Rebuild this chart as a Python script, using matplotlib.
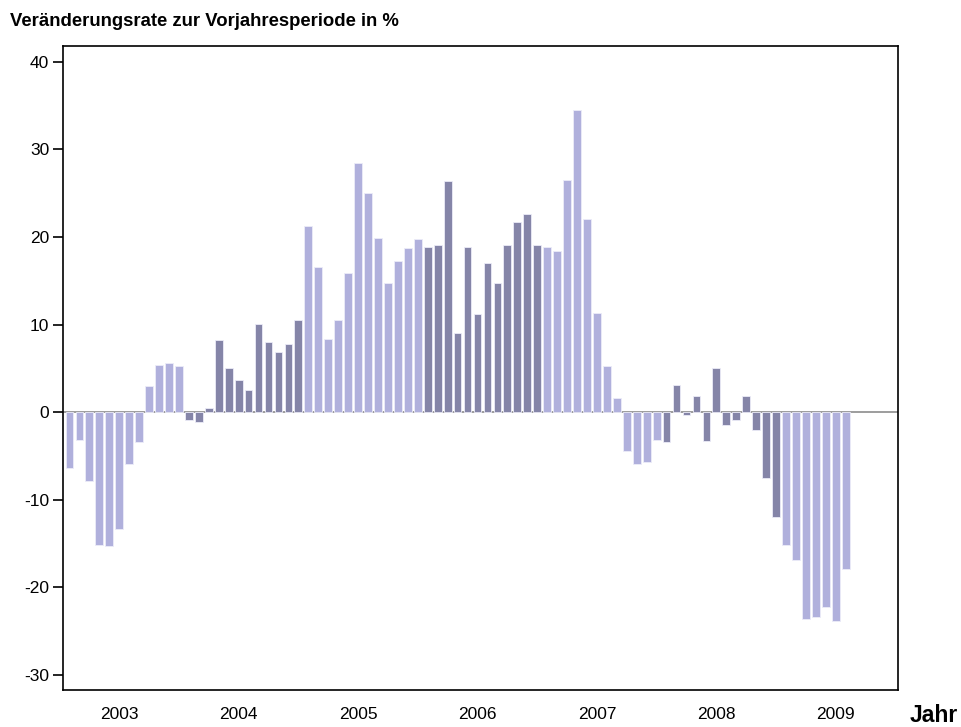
import matplotlib
matplotlib.use("Agg")
import matplotlib.pyplot as plt
import numpy as np

plt.rcParams['font.family'] = ['Liberation Sans', 'DejaVu Sans']

years = ["2003", "2004", "2005", "2006", "2007", "2008", "2009"]
v2003 = [-6.4, -3.2, -7.8, -15.2, -15.3, -13.3, -5.9, -3.4, 3.0, 5.4, 5.6, 5.3]
v2004 = [-0.9, -1.1, 0.5, 8.3, 5.1, 3.7, 2.5, 10.1, 8.0, 6.9, 7.8, 10.5]
v2005 = [21.3, 16.6, 8.4, 10.5, 15.9, 28.5, 25.0, 19.9, 14.8, 17.3, 18.7, 19.8]
v2006 = [18.9, 19.1, 26.4, 9.1, 18.9, 11.2, 17.0, 14.8, 19.1, 21.7, 22.6, 19.1]
v2007 = [18.9, 18.4, 26.5, 34.5, 22.1, 11.3, 5.3, 1.6, -4.4, -5.9, -5.7, -3.2]
v2008 = [-3.4, 3.1, -0.3, 1.8, -3.3, 5.1, -1.5, -0.9, 1.9, -2.0, -7.5, -12.0]
v2009 = [-15.2, -16.9, -23.6, -23.4, -22.2, -23.8, -17.9]
series = [v2003, v2004, v2005, v2006, v2007, v2008, v2009]

light = "#B0B0DC"
dark = "#8585A8"

fig = plt.figure(figsize=(9.62, 7.27), dpi=100)
ax = fig.add_axes([63/962, 1-690/727, (898-63)/962, (690-46)/727])

k = 0
for i, vals in enumerate(series):
    xs = np.arange(k, k + len(vals))
    ax.bar(xs, vals, width=0.78, color=light if i % 2 == 0 else dark,
           edgecolor="#ECECF8", linewidth=0.6, zorder=2)
    k += len(vals)

ax.axhline(0, color="#8C8C8C", linewidth=1.2, zorder=1)

ax.set_xlim(-0.65, 83.25)
ax.set_ylim(-31.7, 41.8)
ax.set_yticks([-30, -20, -10, 0, 10, 20, 30, 40])
ax.set_yticklabels(["-30", "-20", "-10", "0", "10", "20", "30", "40"], fontsize=12.5)
ax.set_xticks([5.0 + 12 * i for i in range(len(years))])
ax.set_xticklabels(years, fontsize=12.5)
ax.tick_params(axis='x', length=0, pad=12)
ax.tick_params(axis='y', length=7, width=1.2, direction='out', pad=3)
for s in ax.spines.values():
    s.set_color("black")
    s.set_linewidth(1.2)

fig.text(10/962, 1-22/727, "Veränderungsrate zur Vorjahresperiode in %",
         fontsize=13.3, fontweight='bold', ha='left', va='center')
fig.text(934/962, 1-715/727, "Jahr", fontsize=16.5, fontweight='bold',
         ha='center', va='center')

fig.savefig("out.png", dpi=100)
